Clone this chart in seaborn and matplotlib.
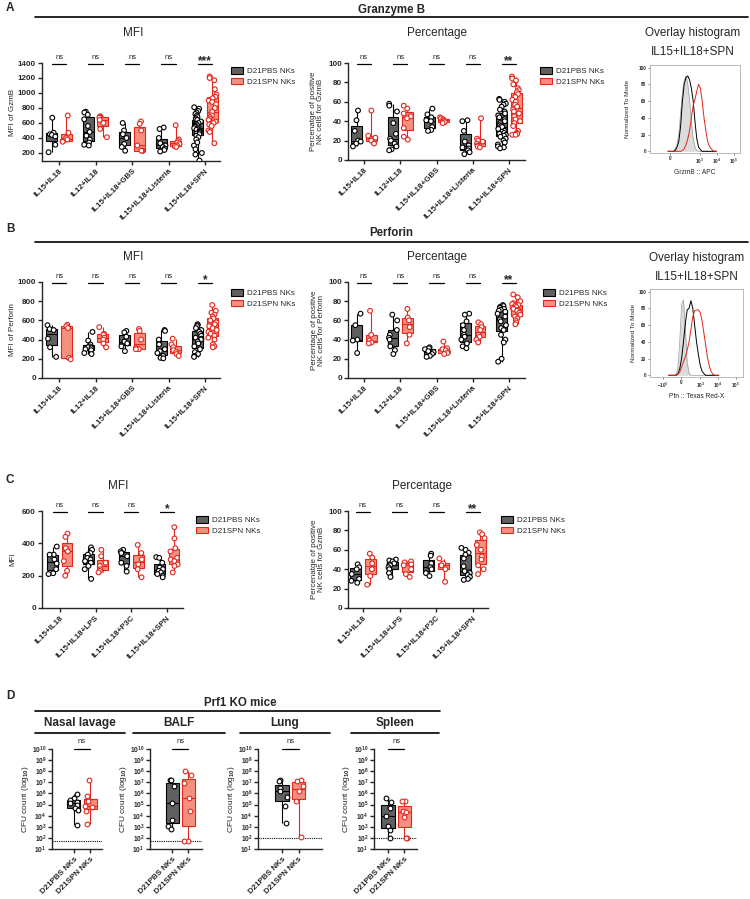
import numpy as np
import pandas as pd
import matplotlib
matplotlib.use('Agg')
import matplotlib.pyplot as plt
import matplotlib.transforms as mtransforms
from matplotlib.lines import Line2D
from matplotlib.patches import Patch
import seaborn as sns

sns.set_style('ticks')
plt.rcParams['font.family'] = ['Liberation Sans', 'DejaVu Sans']
plt.rcParams['font.weight'] = 'bold'
plt.rcParams['mathtext.fontset'] = 'custom'
plt.rcParams['mathtext.rm'] = 'Liberation Sans:bold'
plt.rcParams['mathtext.bf'] = 'Liberation Sans:bold'
plt.rcParams['mathtext.it'] = 'Liberation Sans:bold:italic'

np.random.seed(3)  # jitter only

W, H = 750, 899
GROUPS = ['D21PBS NKs', 'D21SPN NKs']
PBS_FILL, PBS_EDGE = '#606060', 'black'
SPN_FILL, SPN_EDGE = '#f3907f', '#e4261c'

# ---------------- data ----------------
conds_ab = ['IL15+IL18', 'IL12+IL18', 'IL15+IL18+GBS', 'IL15+IL18+Listeria', 'IL15+IL18+SPN']
conds_c = ['IL15+IL18', 'IL15+IL18+LPS', 'IL15+IL18+P3C', 'IL15+IL18+SPN']

# A: Granzyme B MFI
gzmb_mfi_pbs = [
    [670, 470, 450, 440, 420, 310, 210],
    [750, 740, 710, 650, 560, 480, 430, 380, 340, 310, 300],
    [600, 500, 450, 400, 320, 280, 230],
    [540, 520, 400, 330, 300, 300, 280, 260, 240, 220],
    [810, 790, 760, 740, 720, 700, 680, 660, 650, 640, 620, 600, 590, 580, 570, 560, 550,
     540, 530, 520, 510, 500, 490, 480, 470, 460, 450, 430, 410, 380, 340, 300, 250, 200, 180, 100],
]
gzmb_mfi_spn = [
    [700, 470, 400, 380, 360, 350],
    [690, 680, 670, 640, 600, 520, 410],
    [620, 590, 500, 300, 230, 230, 230],
    [570, 380, 360, 340, 320, 300, 290, 280],
    [1220, 1200, 1170, 1050, 980, 950, 930, 900, 880, 850, 800, 750, 700, 680, 660, 640,
     620, 600, 580, 560, 500, 480, 330],
]
# A: Granzyme B percentage
gzmb_pct_pbs = [
    [51, 41, 30, 20, 19, 17, 14],
    [58, 56, 50, 38, 27, 22, 20, 17, 14, 11, 10],
    [53, 47, 44, 41, 40, 34, 31, 30],
    [41, 40, 30, 19, 15, 13, 12, 10, 8, 6],
    [63, 62, 60, 58, 57, 55, 52, 50, 48, 46, 44, 42, 40, 38, 36, 35, 34, 32, 30, 29, 28, 27,
     26, 25, 24, 22, 20, 18, 16, 14, 13, 12],
]
gzmb_pct_spn = [
    [51, 25, 23, 20, 17],
    [56, 53, 48, 45, 43, 33, 24, 21],
    [44, 43, 42, 41, 40, 39, 38],
    [43, 22, 20, 19, 17, 15, 14, 13],
    [86, 84, 82, 78, 74, 72, 70, 68, 65, 62, 60, 57, 55, 52, 50, 48, 45, 42, 40, 38, 35, 30,
     28, 27, 26, 26],
]
# B: Perforin MFI
pfn_mfi_pbs = [
    [550, 510, 500, 410, 320, 220],
    [480, 390, 350, 330, 320, 310, 300, 290, 260, 250],
    [490, 475, 430, 380, 360, 330, 280],
    [500, 490, 400, 350, 300, 280, 260, 230, 210, 205],
    [560, 550, 540, 520, 500, 480, 460, 440, 420, 410, 400, 380, 360, 330, 300, 270, 250, 230, 220],
]
pfn_mfi_spn = [
    [555, 540, 520, 210, 195],
    [530, 460, 450, 420, 400, 360, 320],
    [510, 490, 400, 310, 300, 300],
    [410, 350, 320, 290, 270, 250, 230],
    [760, 700, 680, 660, 640, 620, 600, 580, 560, 540, 520, 500, 480, 460, 440, 420, 400, 350, 330, 320],
]
# B: Perforin percentage
pfn_pct_pbs = [
    [67, 55, 40, 39, 26],
    [66, 60, 50, 45, 42, 40, 33, 29, 25],
    [32, 31, 30, 28, 27, 25, 23, 22],
    [67, 66, 59, 55, 50, 45, 43, 40, 36, 33, 31],
    [76, 75, 74, 73, 72, 71, 70, 69, 67, 64, 61, 59, 55, 52, 50, 45, 40, 37, 20, 17],
]
pfn_pct_spn = [
    [70, 45, 39, 37, 36],
    [72, 63, 60, 53, 45, 36],
    [38, 31, 30, 29, 27, 26, 25],
    [58, 56, 53, 50, 45, 43, 40, 37],
    [87, 84, 80, 78, 77, 76, 75, 74, 73, 72, 71, 70, 68, 66, 64, 62, 60, 58, 56],
]
# C: MFI
c_mfi_pbs = [
    [380, 330, 330, 300, 275, 240, 215, 210],
    [375, 360, 340, 330, 310, 300, 290, 280, 260, 240, 180],
    [360, 350, 340, 320, 280, 260, 225],
    [315, 310, 280, 250, 240, 230, 220, 210, 200, 190],
]
c_mfi_spn = [
    [460, 440, 370, 350, 290, 230, 200],
    [360, 320, 280, 260, 240, 230, 220],
    [390, 340, 300, 270, 240, 190],
    [500, 430, 370, 350, 310, 300, 290, 270, 260, 220],
]
# C: percentage
c_pct_pbs = [
    [45, 42, 40, 35, 30, 28, 26],
    [50, 49, 48, 46, 45, 44, 42, 40, 36, 32],
    [56, 54, 46, 42, 40, 36, 33],
    [62, 60, 57, 55, 51, 43, 38, 37, 36, 34, 32, 30, 29],
]
c_pct_spn = [
    [56, 52, 46, 40, 33, 24],
    [48, 47, 45, 44, 40, 35, 32],
    [51, 46, 44, 40, 27],
    [78, 76, 72, 65, 60, 53, 50, 44, 40, 35],
]
sig_a_mfi = ['ns', 'ns', 'ns', 'ns', '***']
sig_a_pct = ['ns', 'ns', 'ns', 'ns', '**']
sig_b_mfi = ['ns', 'ns', 'ns', 'ns', '*']
sig_b_pct = ['ns', 'ns', 'ns', 'ns', '**']
sig_c_mfi = ['ns', 'ns', 'ns', '*']
sig_c_pct = ['ns', 'ns', 'ns', '**']

# D: CFU counts in Prf1 KO mice
organs = ['Nasal lavage', 'BALF', 'Lung', 'Spleen']
cfu_pbs = [
    [9e5, 4e5, 2.5e5, 1.6e5, 1.3e5, 1e5, 5e4, 3e4, 1.6e3],
    [1.7e7, 1.5e7, 4.4e6, 1.4e5, 4.3e3, 1.3e3, 6.3e2],
    [1.7e7, 1.2e7, 3.1e6, 1.5e6, 4.5e5, 8e4, 2.1e3],
    [4e5, 1.6e5, 4.8e4, 9.5e3, 1.1e3, 5.6e2, 100],
]
cfu_spn = [
    [1.5e7, 5.5e5, 2e5, 8e4, 6e4, 2.4e4, 1.7e3],
    [9.8e7, 5e7, 8.7e6, 3.9e5, 2.5e4, 50, 50],
    [1.5e7, 1.4e7, 4.4e6, 1.5e6, 2e5, 1.3e2],
    [2.2e5, 1.9e5, 2.7e4, 2.3e4, 7.6e3, 100, 100],
]
cfu_lod = [55, 50, 100, 100]

# overlay histograms (channel position 0-100, normalized to mode)
hist_x = [20, 22, 24, 26, 28, 30, 32, 34, 36, 38, 40, 42, 44, 46, 48, 50, 52, 54, 56, 58,
          60, 62, 64, 66, 68, 70, 72, 74]
gzmb_gray = [0, 0, 0, 0, 3, 8, 20, 45, 70, 85, 90, 80, 60, 35, 15, 5, 1, 0, 0, 0,
             0, 0, 0, 0, 0, 0, 0, 0]
gzmb_black = [0, 0, 0, 0, 1, 5, 12, 30, 60, 80, 88, 90, 85, 75, 60, 35, 15, 5, 2, 0,
              0, 0, 0, 0, 0, 0, 0, 0]
gzmb_red = [0, 0, 0, 0, 0, 0, 0, 0, 1, 3, 8, 15, 25, 40, 55, 62, 72, 80, 75, 60,
            40, 25, 12, 6, 3, 1, 0, 0]
pfn_gray = [0, 0, 0, 0, 1, 8, 40, 85, 90, 55, 15, 3, 0, 0, 0, 0, 0, 0, 0, 0,
            0, 0, 0, 0, 0, 0, 0, 0]
pfn_black = [0, 0, 0, 0, 0, 2, 8, 20, 40, 62, 78, 80, 89, 80, 60, 40, 25, 12, 5, 2,
             0, 0, 0, 0, 0, 0, 0, 0]
pfn_red = [0, 0, 0, 0, 0, 1, 4, 10, 16, 22, 30, 40, 55, 70, 77, 78, 78, 75, 65, 50,
           35, 20, 10, 4, 1, 0, 0, 0]
gzmb_ticks, gzmb_ticklabels = [22, 55, 74, 93], ['0', '$10^3$', '$10^4$', '$10^5$']
pfn_ticks, pfn_ticklabels = [14, 33, 54, 73, 92], ['$-10^3$', '0', '$10^3$', '$10^4$', '$10^5$']

# ---------------- figure ----------------
fig = plt.figure(figsize=(W / 100, H / 100), dpi=100)


def add_ax(x0, y0, x1, y1):
    return fig.add_axes([x0 / W, 1 - y1 / H, (x1 - x0) / W, (y1 - y0) / H])


def ftext(x, y, s, **kw):
    fig.text(x / W, 1 - y / H, s, **kw)


def fline(x0, x1, y, lw=1.2):
    fig.add_artist(Line2D([x0 / W, x1 / W], [1 - y / H] * 2, color='black', lw=lw))


def place_ylabel(ax, label, xpx, size=5.8):
    # xpx = right edge of the rotated label, in figure pixels
    ax.set_ylabel(label, fontsize=size, linespacing=1.0)
    tr = mtransforms.blended_transform_factory(fig.transFigure, ax.transAxes)
    ax.yaxis.set_label_coords(xpx / W, 0.5, transform=tr)


def prism_style(ax):
    sns.despine(ax=ax)
    for s in ['left', 'bottom']:
        ax.spines[s].set_linewidth(1.0)
    ax.tick_params(width=1.0, length=3, labelsize=5.8, pad=1.5)
    ax.set_xlabel('')


def add_legend(ax, x, y):
    handles = [Patch(facecolor=PBS_FILL, edgecolor=PBS_EDGE, lw=0.8),
               Patch(facecolor=SPN_FILL, edgecolor=SPN_EDGE, lw=0.8)]
    ax.legend(handles, GROUPS, loc='upper left', bbox_to_anchor=(x / W, 1 - y / H),
              bbox_transform=fig.transFigure, frameon=False,
              prop={'size': 5.8, 'weight': 'normal'}, handlelength=1.5, handleheight=0.9,
              handletextpad=0.5, labelspacing=0.3, borderpad=0, borderaxespad=0)


def add_sig(ax, i, s, half=0.2, yline=0.985):
    tr = ax.get_xaxis_transform()
    ax.plot([i - half, i + half], [yline, yline], transform=tr, color='black', lw=0.9,
            clip_on=False)
    if s == 'ns':
        ax.text(i, yline + 0.04, s, transform=tr, ha='center', va='bottom', fontsize=5.5,
                fontweight='normal')
    else:
        ax.text(i, yline - 0.03, s, transform=tr, ha='center', va='bottom', fontsize=8.5,
                fontweight='bold')


def grouped_panel(ax, conds, pbs, spn, ylim, yticks, sigs, xlim):
    rows = []
    for c, a, b in zip(conds, pbs, spn):
        rows += [(c, GROUPS[0], v) for v in a]
        rows += [(c, GROUPS[1], v) for v in b]
    df = pd.DataFrame(rows, columns=['cond', 'grp', 'val'])
    for grp, fill, edge in [(GROUPS[0], PBS_FILL, PBS_EDGE), (GROUPS[1], SPN_FILL, SPN_EDGE)]:
        sub = df[df['grp'] == grp]
        sns.boxplot(data=sub, x='cond', y='val', hue='grp', order=conds, hue_order=GROUPS,
                    palette={g: fill for g in GROUPS}, saturation=1, whis=(0, 100),
                    showfliers=False, showcaps=False, width=0.8, gap=0.25, dodge=True,
                    linecolor=edge, linewidth=0.8, legend=False, ax=ax)
        sns.stripplot(data=sub, x='cond', y='val', hue='grp', order=conds, hue_order=GROUPS,
                      palette={g: 'white' for g in GROUPS}, dodge=True, jitter=0.24, size=3.4,
                      edgecolor=edge, linewidth=0.8, legend=False, ax=ax)
    ax.set_ylim(*ylim)
    ax.set_yticks(yticks)
    ax.set_xlim(*xlim)
    ax.set_xticks(range(len(conds)))
    ax.set_xticklabels(conds, rotation=45, ha='right', rotation_mode='anchor')
    prism_style(ax)
    for i, s in enumerate(sigs):
        add_sig(ax, i, s)


def overlay_hist(ax, gray, black, red, ticks, ticklabels, xlabel, ylabel_x):
    ax.fill_between(hist_x, gray, color='#dcdcdc', lw=0)
    sns.lineplot(x=hist_x, y=gray, color='#9a9a9a', lw=0.5, ax=ax)
    sns.lineplot(x=hist_x, y=black, color='black', lw=0.7, ax=ax)
    sns.lineplot(x=hist_x, y=red, color='#e4261c', lw=0.7, ax=ax)
    ax.set_xlim(0, 100)
    ax.set_ylim(-2, 103)
    ax.set_yticks([0, 20, 40, 60, 80, 100])
    ax.set_xticks(ticks)
    ax.set_xticklabels(ticklabels)
    for s in ax.spines.values():
        s.set_color('#b0b0b0')
        s.set_linewidth(0.6)
    ax.tick_params(labelsize=3.3, length=1.5, width=0.4, pad=1)
    ax.set_xlabel(xlabel, fontsize=4.8, labelpad=2)
    place_ylabel(ax, 'Normalized To Mode', ylabel_x, size=4.6)


def cfu_panel(ax, pbs, spn, lod, xlim, ylabel_x):
    df = pd.DataFrame({'grp': [GROUPS[0]] * len(pbs) + [GROUPS[1]] * len(spn),
                       'val': pbs + spn})
    for grp, fill, edge in [(GROUPS[0], PBS_FILL, PBS_EDGE), (GROUPS[1], SPN_FILL, SPN_EDGE)]:
        sub = df[df['grp'] == grp]
        sns.boxplot(data=sub, x='grp', y='val', order=GROUPS, color=fill, saturation=1,
                    whis=(0, 100), showfliers=False, showcaps=False, width=0.8,
                    linecolor=edge, linewidth=0.8, log_scale=True, ax=ax)
        sns.stripplot(data=sub, x='grp', y='val', order=GROUPS, color='white', jitter=0.3,
                      size=3.4, edgecolor=edge, linewidth=0.8, log_scale=True, ax=ax)
    ax.axhline(lod, color='black', ls=(0, (1, 1)), lw=0.8)
    ax.set_ylim(10, 1e10)
    ax.set_yticks([10.0 ** k for k in range(1, 11)])
    ax.set_yticklabels(['$10^{%d}$' % k for k in range(1, 11)])
    ax.minorticks_off()
    ax.set_xlim(*xlim)
    ax.set_xticks([0, 1])
    ax.set_xticklabels(GROUPS, rotation=45, ha='right', rotation_mode='anchor')
    prism_style(ax)
    ax.tick_params(axis='y', labelsize=4.8, pad=1.0)
    place_ylabel(ax, 'CFU count (log$_{10}$)', ylabel_x, size=6.0)
    add_sig(ax, 0.5, 'ns', half=0.5, yline=1.0)


# ---------- panel A ----------
ftext(6, 8, 'A', fontsize=8.5, va='center')
ftext(392, 10, 'Granzyme B', fontsize=8.3, ha='center', va='center')
fline(35, 748, 17)
ftext(133, 33, 'MFI', fontsize=8.5, ha='center', va='center', fontweight='normal')
ftext(437, 33, 'Percentage', fontsize=8.5, ha='center', va='center', fontweight='normal')
ftext(693, 33, 'Overlay histogram', fontsize=8.5, ha='center', va='center', fontweight='normal')
ftext(693, 52, 'IL15+IL18+SPN', fontsize=8.5, ha='center', va='center', fontweight='normal')

ax = add_ax(42, 63, 220, 161)
grouped_panel(ax, conds_ab, gzmb_mfi_pbs, gzmb_mfi_spn, (93, 1400), range(200, 1401, 200),
              sig_a_mfi, (-0.47, 4.41))
place_ylabel(ax, 'MFI of GzmB', 16)
add_legend(ax, 231, 67)

ax = add_ax(348, 63, 525, 160)
grouped_panel(ax, conds_ab, gzmb_pct_pbs, gzmb_pct_spn, (0, 100), range(0, 101, 20),
              sig_a_pct, (-0.44, 4.44))
place_ylabel(ax, 'Percenatge of positive\nNK cells for GzmB', 324)
add_legend(ax, 540, 67)

ax = add_ax(650, 65, 740, 153)
overlay_hist(ax, gzmb_gray, gzmb_black, gzmb_red, gzmb_ticks, gzmb_ticklabels,
             'GrzmB :: APC', 630)

# ---------- panel B ----------
ftext(6, 229, 'B', fontsize=8.5, va='center')
ftext(391, 233, 'Perforin', fontsize=8.3, ha='center', va='center')
fline(35, 748, 242)
ftext(133, 257, 'MFI', fontsize=8.5, ha='center', va='center', fontweight='normal')
ftext(437, 257, 'Percentage', fontsize=8.5, ha='center', va='center', fontweight='normal')
ftext(697, 258, 'Overlay histogram', fontsize=8.5, ha='center', va='center', fontweight='normal')
ftext(697, 277, 'IL15+IL18+SPN', fontsize=8.5, ha='center', va='center', fontweight='normal')

ax = add_ax(42, 282, 220, 378)
grouped_panel(ax, conds_ab, pfn_mfi_pbs, pfn_mfi_spn, (0, 1000), range(0, 1001, 200),
              sig_b_mfi, (-0.47, 4.41))
place_ylabel(ax, 'MFI of Perforin', 16)
add_legend(ax, 231, 289)

ax = add_ax(348, 282, 525, 378)
grouped_panel(ax, conds_ab, pfn_pct_pbs, pfn_pct_spn, (0, 100), range(0, 101, 20),
              sig_b_pct, (-0.44, 4.44))
place_ylabel(ax, 'Percentage of positive\nNK cells for Perforin', 325)
add_legend(ax, 543, 289)

ax = add_ax(650, 289, 743, 377)
overlay_hist(ax, pfn_gray, pfn_black, pfn_red, pfn_ticks, pfn_ticklabels,
             'Pfn :: Texas Red-X', 636)

# ---------- panel C ----------
ftext(6, 480, 'C', fontsize=8.5, va='center')
ftext(118, 486, 'MFI', fontsize=8.5, ha='center', va='center', fontweight='normal')
ftext(422, 486, 'Percentage', fontsize=8.5, ha='center', va='center', fontweight='normal')

ax = add_ax(42, 511, 183, 608)
grouped_panel(ax, conds_c, c_mfi_pbs, c_mfi_spn, (0, 600), range(0, 601, 200),
              sig_c_mfi, (-0.5, 3.45))
place_ylabel(ax, 'MFI', 16)
add_legend(ax, 196, 516)

ax = add_ax(348, 511, 488, 608)
grouped_panel(ax, conds_c, c_pct_pbs, c_pct_spn, (0, 100), range(0, 101, 20),
              sig_c_pct, (-0.41, 3.41))
place_ylabel(ax, 'Percenatge of positive\nNK cells for GzmB', 325)
add_legend(ax, 501, 516)

# ---------- panel D ----------
ftext(6, 696, 'D', fontsize=8.5, va='center')
ftext(240, 703, 'Prf1 KO mice', fontsize=8.3, ha='center', va='center')
fline(35, 440, 711)
d_titles_x = [80, 179, 285, 395]
d_lines = [(35, 125), (133, 225), (240, 330), (351, 439)]
d_axes = [(52, 102), (150, 202), (258, 322), (374, 417)]
d_xlims = [(-1.33, 1.72), (-1.37, 1.85), (-1.45, 2.4), (-0.85, 1.76)]
d_ylabel_x = [31, 129, 237, 352]
for k in range(4):
    ftext(d_titles_x[k], 723, organs[k], fontsize=8.5, ha='center', va='center')
    fline(d_lines[k][0], d_lines[k][1], 733)
    ax = add_ax(d_axes[k][0], 749, d_axes[k][1], 849)
    cfu_panel(ax, cfu_pbs[k], cfu_spn[k], cfu_lod[k], d_xlims[k], d_ylabel_x[k])

fig.savefig('out.png', dpi=100)
